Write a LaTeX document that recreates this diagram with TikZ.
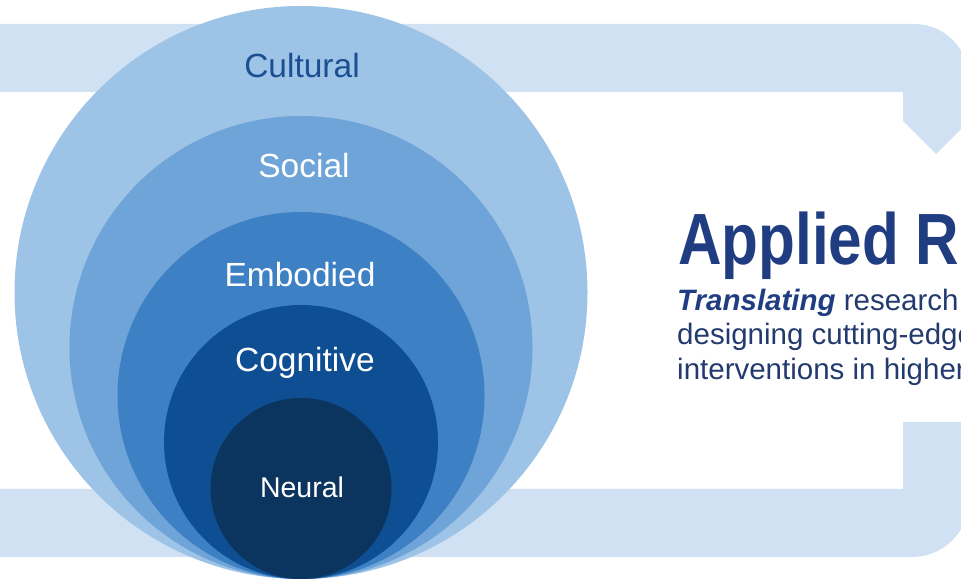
\documentclass[tikz,border=0pt]{standalone}
\usepackage{fontspec}
\setmainfont{Liberation Sans}
\newfontfamily\headfont[FakeStretch=0.83]{Liberation Sans}
\usetikzlibrary{positioning,calc}

\definecolor{bandblue}{RGB}{207,225,242}
\definecolor{culturalblue}{RGB}{157,195,230}
\definecolor{socialblue}{RGB}{111,164,217}
\definecolor{embodiedblue}{RGB}{61,128,196}
\definecolor{cognitiveblue}{RGB}{14,78,146}
\definecolor{neuralblue}{RGB}{11,52,95}
\definecolor{labelblue}{RGB}{28,79,145}
\definecolor{headblue}{RGB}{31,61,128}
\definecolor{textblue}{RGB}{35,58,110}

\begin{document}
\begin{tikzpicture}
      [x=1pt,y=1pt,
       ring/.style={circle,draw=none,inner sep=0pt},
       lbl/.style={anchor=base,inner sep=0pt,text=white,font=\fontsize{33.5}{40}\selectfont},
       para/.style={anchor=base west,inner sep=0pt,text=textblue,font=\fontsize{29.5}{35}\selectfont}]
      \useasboundingbox (0,0) rectangle (961,583);
      \clip (0,0) rectangle (961,583);

      % loop band behind the circles
      \fill[bandblue] (-10,559) -- (914,559) arc[start angle=90,end angle=0,radius=55]
        -- (969,462) -- (936,429) -- (903,462) -- (903,491) -- (-10,491) -- cycle;
      \fill[bandblue] (903,161) -- (969,161) -- (969,83) arc[start angle=0,end angle=-90,radius=57]
        -- (-10,26) -- (-10,94) -- (903,94) -- cycle;

      % nested levels
      \node[ring,fill=culturalblue,minimum size=573pt] (cultural) at (301,290.5) {};
      \node[ring,fill=socialblue,minimum size=463pt] (social) at (301,235.5) {};
      \node[ring,fill=embodiedblue,minimum size=367pt] (embodied) at (301,187.5) {};
      \node[ring,fill=cognitiveblue,minimum size=274pt] (cognitive) at (301,141) {};
      \node[ring,fill=neuralblue,minimum size=181pt] (neural) at (301,94.5) {};

      \node[lbl,text=labelblue] (culturaltext) at (302,505) {Cultural};
      \node[lbl] (socialtext) at (304,405) {Social};
      \node[lbl] (embodiedtext) at (300,296) {Embodied};
      \node[lbl] (cognitivetext) at (305,211) {Cognitive};
      \node[lbl,font=\fontsize{28.5}{34}\selectfont] (neuraltext) at (302,85) {Neural};

      % heading and text
      \node[anchor=base west,inner sep=0pt,text=headblue,font=\headfont\bfseries\fontsize{72.6}{80}\selectfont] (title) at (678,318) {Applied R};
      \node[para] (line1) at (677,272) {\textcolor{headblue}{\textbf{\textit{Translating}}} research};
      \node[para] (line2) at (677,238) {designing cutting-edge};
      \node[para] (line3) at (677,203) {interventions in higher};
    \end{tikzpicture}
\end{document}
